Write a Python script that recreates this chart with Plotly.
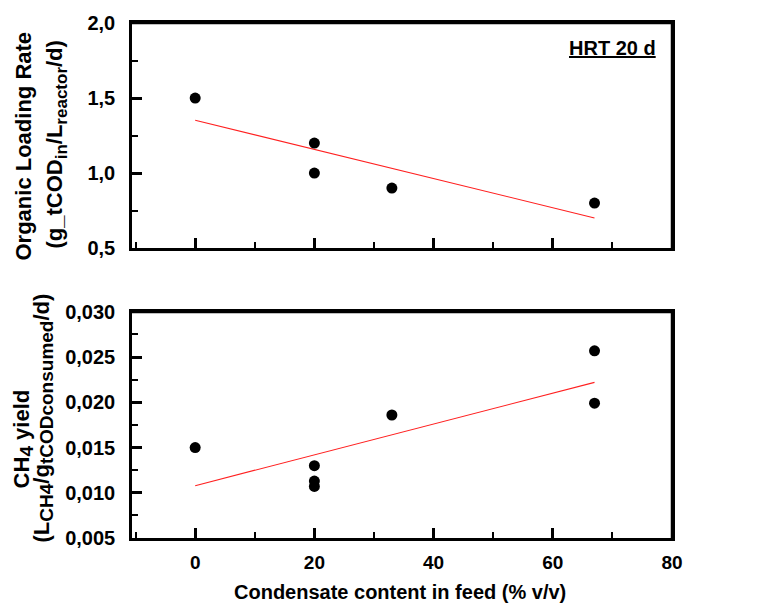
import numpy as np
import plotly.graph_objects as go

# Organic loading rate vs. condensate share in the feed
condensate_olr = [0, 20, 20, 33, 67]
olr = [1.5, 1.2, 1.0, 0.9, 0.8]

# Methane yield vs. condensate share in the feed
condensate_ch4 = [0, 20, 20, 20, 33, 67, 67]
ch4_yield = [0.0150, 0.0130, 0.0113, 0.0107, 0.0186, 0.0257, 0.0199]

x_tick_vals = [0, 20, 40, 60, 80]
olr_tick_vals = [0.5, 1.0, 1.5, 2.0]
ch4_tick_vals = [0.005, 0.010, 0.015, 0.020, 0.025, 0.030]

W, H = 775, 610
ML, MR, MT, MB = 132, 103, 21, 72
PW, PH = W - ML - MR, H - MT - MB


def px_x(px):
    return (px - ML) / PW


def px_y(py):
    return (H - MB - py) / PH


def linear_fit(x, y):
    slope, intercept = np.polyfit(x, y, 1)
    xs = np.array([min(x), max(x)], dtype=float)
    return xs, slope * xs + intercept


FONT = "Liberation Sans, Arial, sans-serif"

fig = go.Figure()

fx, fy = linear_fit(condensate_olr, olr)
fig.add_trace(go.Scatter(x=fx, y=fy, mode="lines", line=dict(color="#ff2020", width=1.1),
                         xaxis="x", yaxis="y", showlegend=False))
fig.add_trace(go.Scatter(x=condensate_olr, y=olr, mode="markers",
                         marker=dict(color="black", size=11), xaxis="x", yaxis="y", showlegend=False))

fx2, fy2 = linear_fit(condensate_ch4, ch4_yield)
fig.add_trace(go.Scatter(x=fx2, y=fy2, mode="lines", line=dict(color="#ff2020", width=1.1),
                         xaxis="x2", yaxis="y2", showlegend=False))
fig.add_trace(go.Scatter(x=condensate_ch4, y=ch4_yield, mode="markers",
                         marker=dict(color="black", size=11), xaxis="x2", yaxis="y2", showlegend=False))

axis_style = dict(
    showline=True, linecolor="black", linewidth=2.5, mirror=True,
    ticks="inside", ticklen=10, tickwidth=2.5, tickcolor="black",
    showgrid=False, zeroline=False,
)
minor_style = dict(ticks="inside", ticklen=6, tickwidth=2, tickcolor="black")
x_tick_font = dict(family=FONT, size=19, color="black", weight="bold")
y_tick_font = dict(family=FONT, size=20, color="black", weight="bold")

x_range = [-10.6, 80]
top_lo = px_y(247)
bot_hi = px_y(311)

fig.update_layout(
    width=W, height=H,
    margin=dict(l=ML, r=MR, t=MT, b=MB),
    paper_bgcolor="white", plot_bgcolor="white",
    separators=", ",
    xaxis=dict(**axis_style, range=x_range, tickvals=x_tick_vals, showticklabels=False,
               anchor="y", domain=[0, 1], minor=dict(**minor_style, dtick=10, tick0=0)),
    yaxis=dict(**axis_style, range=[0.5, 2.0], tickvals=olr_tick_vals, tickformat=".1f",
               tickfont=y_tick_font, anchor="x", domain=[top_lo, 1], ticklabelstandoff=10,
               minor=dict(**minor_style, dtick=0.25, tick0=0.5)),
    xaxis2=dict(**axis_style, range=x_range, tickvals=x_tick_vals, tickfont=x_tick_font,
                anchor="y2", domain=[0, 1], ticklabelstandoff=5,
                minor=dict(**minor_style, dtick=10, tick0=0)),
    yaxis2=dict(**axis_style, range=[0.005, 0.030], tickvals=ch4_tick_vals, tickformat=".3f",
                tickfont=y_tick_font, anchor="x2", domain=[0, bot_hi], ticklabelstandoff=10,
                minor=dict(**minor_style, dtick=0.0025, tick0=0.005)),
)

# Top and right edges of each panel
for lo, hi in ((top_lo, 1.0), (0.0, bot_hi)):
    fig.add_shape(type="line", xref="paper", yref="paper", x0=0, x1=1, y0=hi, y1=hi,
                  line=dict(color="black", width=2.5))
    fig.add_shape(type="line", xref="paper", yref="paper", x0=1, x1=1, y0=lo, y1=hi,
                  line=dict(color="black", width=2.5))

title_font = dict(family=FONT, size=22, color="black", weight="bold")


def sub(text, size):
    return f'<sub><span style="font-size:{size}px">{text}</span></sub>'


annotations = [
    dict(text="Organic Loading Rate", x=px_x(24), y=px_y(145), textangle=-90),
    dict(text="(g_tCOD" + sub("in", 17) + "/L" + sub("reactor", 17) + "/d)",
         x=px_x(57), y=px_y(143), textangle=-90),
    dict(text="CH" + sub("4", 19) + " yield", x=px_x(23), y=px_y(438), textangle=-90),
    dict(text="(L" + sub("CH4", 19) + "/g" + sub("tCODconsumed", 19) + "/d)",
         x=px_x(43), y=px_y(418), textangle=-90),
]
for a in annotations:
    fig.add_annotation(xref="paper", yref="paper", xanchor="center", yanchor="middle",
                       showarrow=False, font=title_font, **a)

fig.add_annotation(text="Condensate content in feed (% v/v)", xref="paper", yref="paper",
                   x=px_x(400), y=px_y(592), xanchor="center", yanchor="middle",
                   showarrow=False, font=dict(family=FONT, size=20, color="black", weight="bold"))

fig.add_annotation(text="<u>HRT 20 d</u>", xref="paper", yref="paper",
                   x=px_x(658), y=px_y(46), xanchor="right", yanchor="middle",
                   showarrow=False, font=dict(family=FONT, size=20, color="black", weight="bold"))

fig.write_html("out.html")
